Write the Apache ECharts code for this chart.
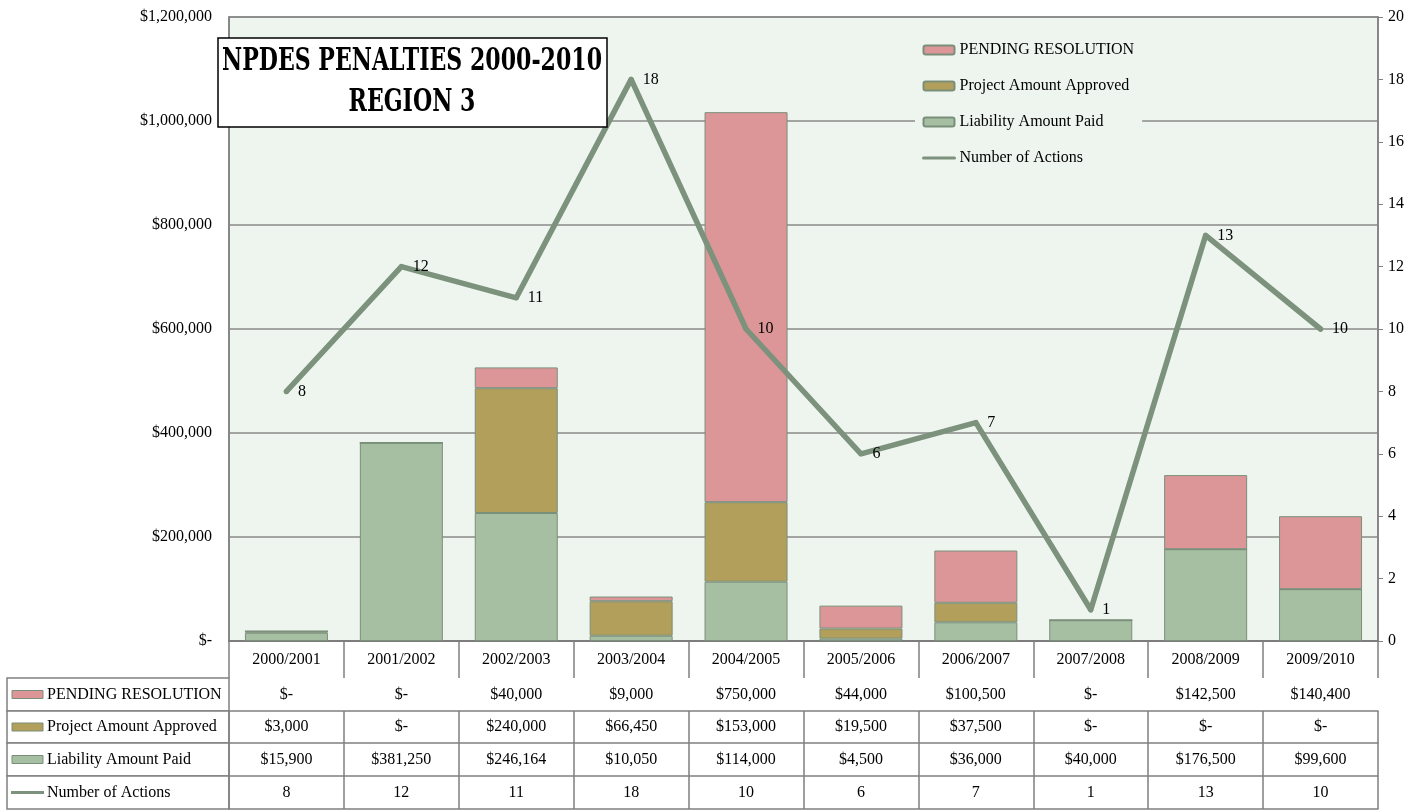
<!DOCTYPE html>
<html>
<head>
<meta charset="utf-8">
<title>NPDES Penalties 2000-2010 Region 3</title>
<script src="https://cdn.jsdelivr.net/npm/echarts@6/dist/echarts.min.js"></script>
<style>
  html, body { margin: 0; padding: 0; background: #fff; }
  #chart { width: 1424px; height: 811px; }
</style>
</head>
<body>
<div id="chart"></div>
<script>
// data
var categories = ['2000/2001', '2001/2002', '2002/2003', '2003/2004', '2004/2005',
                  '2005/2006', '2006/2007', '2007/2008', '2008/2009', '2009/2010'];
var pending   = [0, 0, 40000, 9000, 750000, 44000, 100500, 0, 142500, 140400];
var project   = [3000, 0, 240000, 66450, 153000, 19500, 37500, 0, 0, 0];
var liability = [15900, 381250, 246164, 10050, 114000, 4500, 36000, 40000, 176500, 99600];
var actions   = [8, 12, 11, 18, 10, 6, 7, 1, 13, 10];

var seriesNames = ['PENDING RESOLUTION', 'Project Amount Approved', 'Liability Amount Paid', 'Number of Actions'];
var titleLines = ['NPDES PENALTIES 2000-2010', 'REGION 3'];

var FONT = '"Liberation Serif", serif';
var TITLE_FONT = '"DejaVu Serif", serif';
var GRID_LINE = '#8a8a8a';
var PINK = '#dd9698', OLIVE = '#b19f5b', GREEN = '#a6bfa3', LINE = '#7c927c', EDGE = '#7a8f7a';

function money(v) {
    return v === 0 ? '$-' : '$' + v.toLocaleString('en-US');
}

var chart = echarts.init(document.getElementById('chart'));

// geometry of the plot and of the data table underneath
var gridLeft = 229, gridRight = 1378, gridTop = 17, gridBottom = 641;
var rowTops = [678, 711, 743, 776];
var tableBottom = 809;

function tableAxis(values, top, bottom, fmt) {
    var h = bottom - top;
    return {
        type: 'category',
        gridIndex: 0,
        position: 'bottom',
        offset: top - gridBottom,
        data: values.map(fmt),
        axisLine: { show: true, lineStyle: { color: '#808080', width: 1.5 } },
        axisTick: { show: true, interval: 0, length: h, lineStyle: { color: '#808080', width: 1.5 } },
        axisLabel: {
            interval: 0, margin: h / 2, verticalAlign: 'middle',
            fontFamily: FONT, fontSize: 16, color: '#000'
        },
        splitLine: { show: false }
    };
}

var xAxes = [
    {
        type: 'category',
        data: categories,
        axisLine: { lineStyle: { color: '#777', width: 2 } },
        axisTick: { show: true, interval: 0, length: rowTops[0] - gridBottom, lineStyle: { color: '#808080', width: 1.5 } },
        axisLabel: {
            interval: 0, margin: (rowTops[0] - gridBottom) / 2, verticalAlign: 'middle',
            fontFamily: FONT, fontSize: 16, color: '#000'
        }
    },
    tableAxis(pending, rowTops[0], rowTops[1], money),
    tableAxis(project, rowTops[1], rowTops[2], money),
    tableAxis(liability, rowTops[2], rowTops[3], money),
    tableAxis(actions, rowTops[3], tableBottom, function (v) { return String(v); }),
    // closing line of the table
    {
        type: 'category', position: 'bottom', offset: tableBottom - gridBottom,
        data: categories,
        axisLine: { show: true, lineStyle: { color: '#808080', width: 1.5 } },
        axisTick: { show: false }, axisLabel: { show: false }
    }
];

// title box, squeezed horizontally to mimic the condensed slab face
var measure = document.createElement('canvas').getContext('2d');
measure.font = 'bold 31px ' + TITLE_FONT;
var titleScale = 380 / measure.measureText(titleLines[0]).width;

var graphics = [
    {
        type: 'rect', z: 100,
        shape: { x: 218, y: 38, width: 389, height: 89 },
        style: { fill: '#fff', stroke: '#000', lineWidth: 1.5 }
    },
    {
        type: 'text', z: 101, x: 412, y: 62, scaleX: titleScale,
        style: { text: titleLines[0], align: 'center', verticalAlign: 'middle', font: 'bold 31px ' + TITLE_FONT, fill: '#000' }
    },
    {
        type: 'text', z: 101, x: 412, y: 103, scaleX: titleScale,
        style: { text: titleLines[1], align: 'center', verticalAlign: 'middle', font: 'bold 31px ' + TITLE_FONT, fill: '#000' }
    }
];

// left column of the table: legend keys and series names
var keyColors = [PINK, OLIVE, GREEN, null];
var rowEdges = rowTops.concat([tableBottom]);
seriesNames.forEach(function (name, i) {
    var top = rowEdges[i], bottom = rowEdges[i + 1], mid = (top + bottom) / 2;
    graphics.push({
        type: 'rect',
        shape: { x: 7, y: top, width: gridLeft - 7, height: bottom - top },
        style: { fill: '#fff', stroke: '#808080', lineWidth: 1.5 }
    });
    if (keyColors[i]) {
        graphics.push({
            type: 'rect',
            shape: { x: 12, y: mid - 4, width: 31, height: 8 },
            style: { fill: keyColors[i], stroke: EDGE, lineWidth: 1 }
        });
    } else {
        graphics.push({
            type: 'line',
            shape: { x1: 11, y1: mid, x2: 44, y2: mid },
            style: { stroke: LINE, lineWidth: 3 }
        });
    }
    graphics.push({
        type: 'text', x: 47, y: mid,
        style: { text: name, verticalAlign: 'middle', font: '16px ' + FONT, fill: '#000' }
    });
});

var option = {
    animation: false,
    backgroundColor: '#fff',
    grid: {
        left: gridLeft, right: 1424 - gridRight, top: gridTop, bottom: 811 - gridBottom,
        show: true, backgroundColor: '#eef5ef', borderColor: '#808080', borderWidth: 1.5
    },
    legend: {
        orient: 'vertical',
        left: 915, top: 37,
        padding: [5, 8, 5, 7],
        itemGap: 20,
        itemWidth: 31, itemHeight: 9,
        backgroundColor: '#eef5ef',
        textStyle: { fontFamily: FONT, fontSize: 16, color: '#000' },
        data: [
            { name: seriesNames[0] },
            { name: seriesNames[1] },
            { name: seriesNames[2] },
            { name: seriesNames[3], itemStyle: { opacity: 0 }, lineStyle: { width: 3 } }
        ]
    },
    xAxis: xAxes,
    yAxis: [
        {
            type: 'value', min: 0, max: 1200000, interval: 200000,
            axisLine: { show: true, lineStyle: { color: '#808080', width: 1.5 } },
            axisTick: { show: false },
            splitLine: { lineStyle: { color: GRID_LINE, width: 1.5 } },
            axisLabel: {
                margin: 17, fontFamily: FONT, fontSize: 16, color: '#000',
                formatter: function (v) { return money(v); }
            }
        },
        {
            type: 'value', position: 'right', min: 0, max: 20, interval: 2,
            axisLine: { show: true, lineStyle: { color: '#808080', width: 1.5 } },
            axisTick: { show: true, length: 5, lineStyle: { color: '#808080' } },
            splitLine: { show: false },
            axisLabel: { margin: 10, fontFamily: FONT, fontSize: 16, color: '#000' }
        }
    ],
    series: [
        {
            name: seriesNames[2], type: 'bar', stack: 'money', data: liability,
            barWidth: 83,
            itemStyle: { color: GREEN, borderColor: EDGE, borderWidth: 1 }
        },
        {
            name: seriesNames[1], type: 'bar', stack: 'money', data: project,
            barWidth: 83,
            itemStyle: { color: OLIVE, borderColor: EDGE, borderWidth: 1 }
        },
        {
            name: seriesNames[0], type: 'bar', stack: 'money', data: pending,
            barWidth: 83,
            itemStyle: { color: PINK, borderColor: EDGE, borderWidth: 1 }
        },
        {
            name: seriesNames[3], type: 'line', yAxisIndex: 1, data: actions,
            symbol: 'circle', symbolSize: 5, z: 5,
            itemStyle: { color: LINE },
            lineStyle: { color: LINE, width: 5.5, cap: 'round', join: 'round' },
            label: {
                show: true, position: 'right', distance: 9,
                fontFamily: FONT, fontSize: 16, color: '#000'
            }
        }
    ],
    graphic: graphics
};

chart.setOption(option);
window.addEventListener('resize', chart.resize);
</script>
</body>
</html>
